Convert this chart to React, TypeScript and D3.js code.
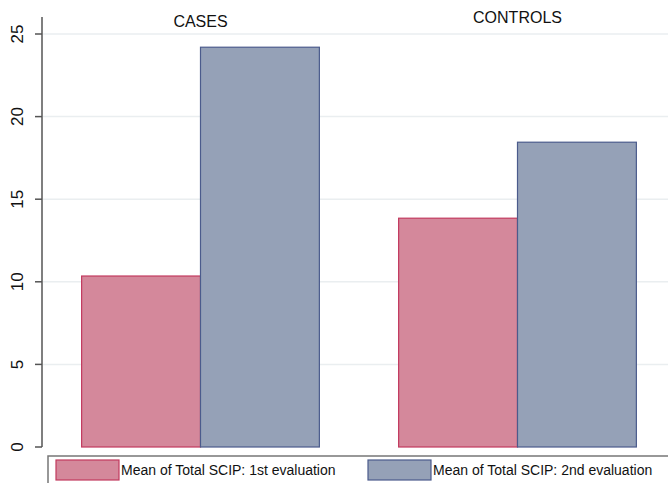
import React from "react";
import * as d3 from "d3";

const groups = ["CASES", "CONTROLS"];
const series = ["Mean of Total SCIP: 1st evaluation", "Mean of Total SCIP: 2nd evaluation"];
const firstEval = [10.35, 13.85];
const secondEval = [24.2, 18.45];
const yTicks = [0, 5, 10, 15, 20, 25];

const W = 668, H = 483;
const fills = ["#d4889b", "#95a1b7"];
const strokes = ["#c23a5e", "#4b5b8c"];

export default function App() {
  const y = d3.scaleLinear().domain([0, 25]).range([447, 34]);
  const groupX = d3.scaleBand<string>().domain(groups).range([42, 676]).paddingInner(0.25).paddingOuter(0.125);
  const inner = d3.scaleBand<number>().domain([0, 1]).range([0, groupX.bandwidth()]);
  const vals = [firstEval, secondEval];
  const titleY = [27, 23];
  const font = "'Liberation Sans', Arial, sans-serif";
  return (
    <div style={{ position: "absolute", left: 0, top: 0 }}>
      <svg width={W} height={H} style={{ display: "block", background: "#fff" }} fontFamily={font}>
        {yTicks.map((t) => (
          <g key={t}>
            {t > 0 && <line x1={43} x2={W} y1={y(t)} y2={y(t)} stroke="#eaeef0" strokeWidth={1.5} />}
            <line x1={35} x2={42} y1={y(t)} y2={y(t)} stroke="#555" strokeWidth={1.5} />
            <text
              transform={`translate(${23},${y(t)}) rotate(-90)`}
              textAnchor="middle"
              fontSize={17}
              fill="#111"
            >
              {t}
            </text>
          </g>
        ))}
        <line x1={42} x2={42} y1={17} y2={447} stroke="#555" strokeWidth={1.5} />
        {groups.map((g, gi) => (
          <g key={g}>
            <text x={(groupX(g) as number) + groupX.bandwidth() / 2} y={titleY[gi]} textAnchor="middle" fontSize={16} fill="#111">
              {g}
            </text>
            {[0, 1].map((s) => (
              <rect
                key={s}
                x={(groupX(g) as number) + (inner(s) as number)}
                y={y(vals[s][gi])}
                width={inner.bandwidth()}
                height={y(0) - y(vals[s][gi])}
                fill={fills[s]}
                stroke={strokes[s]}
                strokeWidth={1.2}
              />
            ))}
          </g>
        ))}
        <rect x={48} y={456} width={640} height={40} fill="#fff" stroke="#777" strokeWidth={1.5} />
        {series.map((s, i) => {
          const sx = i === 0 ? 56 : 368;
          return (
            <g key={s}>
              <rect x={sx} y={460} width={63} height={20} fill={fills[i]} stroke={strokes[i]} strokeWidth={1.2} />
              <text x={sx + 65} y={475} fontSize={14} fill="#111">{s}</text>
            </g>
          );
        })}
      </svg>
    </div>
  );
}
